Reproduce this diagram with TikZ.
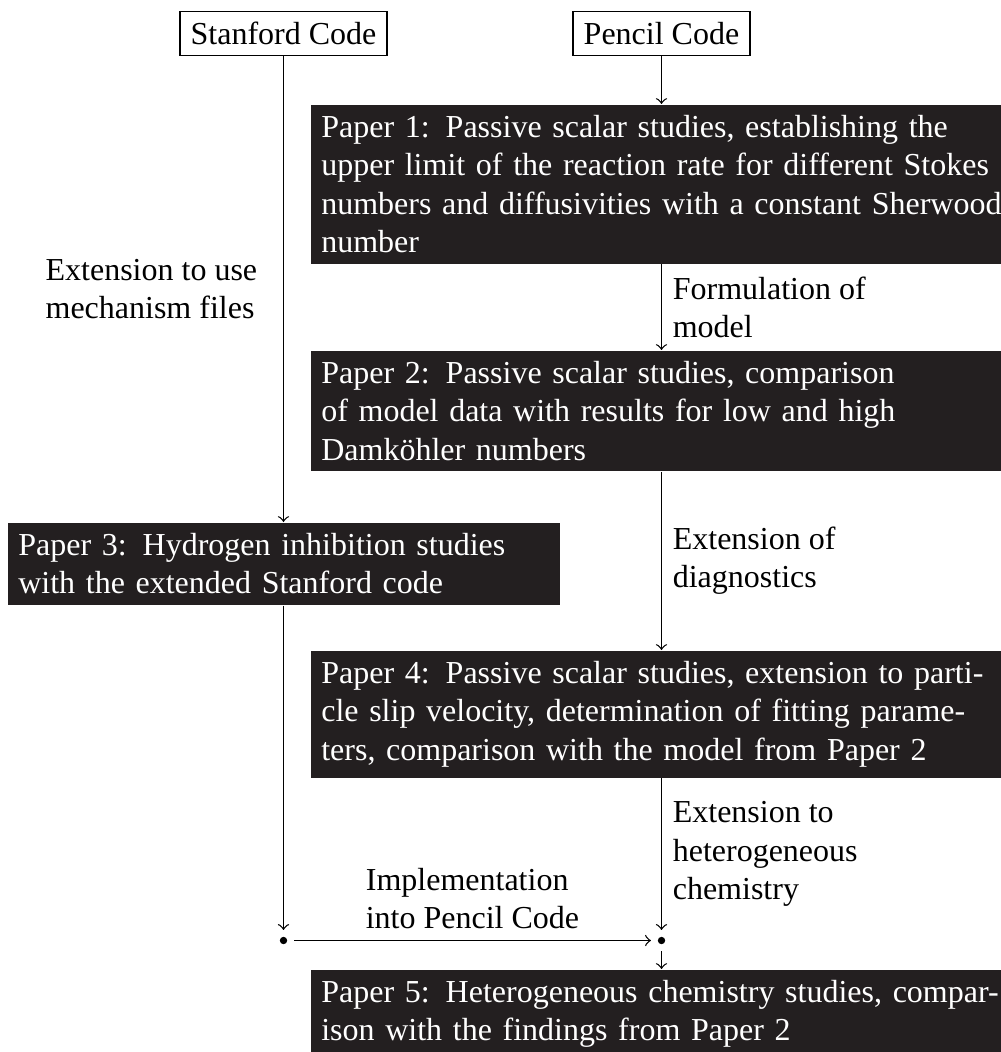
\documentclass[tikz,border=0pt]{standalone}
\usepackage{fontspec}
\setmainfont{Liberation Serif}
\definecolor{boxfill}{RGB}{35,31,32}
\begin{document}
\begin{tikzpicture}[x=0.3125pt,y=-0.3125pt,
  codebox/.style={draw, thin, rectangle, fill=white, text=black},
  paperbox/.style={rectangle, fill=boxfill, text=white, align=left, anchor=north west},
  wide/.style={paperbox, text width=230pt},
  narrow/.style={paperbox, text width=165.8pt},
  conn/.style={->, thin},
  lbl/.style={align=left, text=black},
  dotnode/.style={circle, inner sep=0pt, minimum size=6.2pt}
]
\useasboundingbox (0,0) rectangle (1001,1052);

\node[codebox] (stanford) at (283.5,33.5) {Stanford Code};
\node[codebox] (pencil) at (661.5,33.5) {Pencil Code};

\node[wide] (p1) at (310,104) {Paper 1: Passive scalar studies, establishing the\\upper limit of the reaction rate for different Stokes\\numbers and diffusivities with a constant Sherwood\\number};
\node[wide] (p2) at (310,350) {Paper 2: Passive scalar studies, comparison\\of model data with results for low and high\\Damköhler numbers};
\node[narrow] (p3) at (7,522) {Paper 3: Hydrogen inhibition studies\\with the extended Stanford code};
\node[wide] (p4) at (310,650) {Paper 4: Passive scalar studies, extension to parti-\\cle slip velocity, determination of fitting parame-\\ters, comparison with the model from Paper 2};
\node[wide] (p5) at (310,969) {Paper 5: Heterogeneous chemistry studies, compar-\\ison with the findings from Paper 2};

\node[dotnode] (ldot) at (283.5,940.5) {};
\node[dotnode] (rdot) at (661.5,940.5) {};
\fill (ldot.center) circle (1.15pt);
\fill (rdot.center) circle (1.15pt);

% Stanford branch
\draw[conn] (stanford.south) -- (stanford.south |- p3.north)
  node[lbl, midway, left=4.7pt] {Extension to use\\mechanism files};
\draw[conn] (ldot |- p3.south) -- (ldot.north);

% Pencil branch
\draw[conn] (pencil.south) -- (pencil.south |- p1.north);
\draw[conn] (pencil |- p1.south) -- (pencil |- p2.north)
  node[lbl, midway, right] {Formulation of\\model};
\draw[conn] (pencil |- p2.south) -- (pencil |- p4.north)
  node[lbl, midway, right] {Extension of\\diagnostics};
\draw[conn] (rdot |- p4.south) -- (rdot.north)
  node[lbl, midway, right] {Extension to\\heterogeneous\\chemistry};

% join
\draw[conn] (ldot.east) -- (rdot.west)
  node[lbl, midway, above] {Implementation\\into Pencil Code};
\draw[conn] (rdot.south) -- (rdot |- p5.north);
\end{tikzpicture}
\end{document}
